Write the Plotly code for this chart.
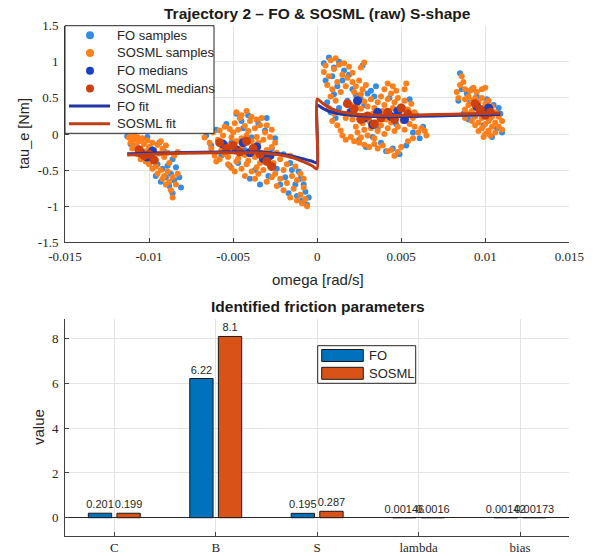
import plotly.graph_objects as go

# ---------------- Trajectory 2 data: (omega [rad/s], tau_e [Nm]) ----------------
# raw FO samples, grouped by velocity plateau
fo_samples_n10 = [
    (-0.0113, -0.03), (-0.0111, -0.14), (-0.0109, 0.00), (-0.0107, -0.18), (-0.0105, -0.08),
    (-0.0103, -0.26), (-0.0101, -0.04), (-0.0099, -0.20), (-0.0097, -0.34), (-0.0095, -0.42),
    (-0.0094, -0.12), (-0.0092, -0.48), (-0.0091, -0.24), (-0.0090, -0.60), (-0.0089, -0.44),
    (-0.0088, -0.72), (-0.0087, -0.55), (-0.0086, -0.82), (-0.0085, -0.64), (-0.0084, -0.46),
    (-0.0082, -0.60), (-0.0081, -0.74), (-0.0093, -0.66), (-0.0096, -0.58), (-0.0086, -0.35),
]
fo_samples_n4 = [
    (-0.0066, -0.02), (-0.0063, -0.16), (-0.0060, 0.06), (-0.0057, -0.30), (-0.0054, 0.14),
    (-0.0051, -0.12), (-0.0048, 0.28), (-0.0047, -0.40), (-0.0045, 0.18), (-0.0043, -0.22),
    (-0.0041, 0.26), (-0.0039, -0.05), (-0.0037, -0.50), (-0.0035, 0.15), (-0.0033, -0.30),
    (-0.0031, 0.05), (-0.0029, -0.58), (-0.0027, -0.20), (-0.0025, -0.06), (-0.0024, -0.48),
    (-0.0022, -0.70), (-0.0020, -0.28), (-0.0019, -0.60), (-0.0017, -0.82), (-0.0015, -0.50),
    (-0.0013, -0.70), (-0.0012, -0.86), (-0.0010, -0.62), (-0.0009, -0.92), (-0.0007, -0.80),
    (-0.0006, -0.98), (-0.0005, -0.88), (-0.0052, -0.44), (-0.0040, -0.62), (-0.0034, -0.70),
    (-0.0044, 0.08), (-0.0030, 0.22), (-0.0016, -0.40), (-0.0011, -0.52), (-0.0008, -0.70),
]
fo_samples_p3 = [
    (0.0004, 0.98), (0.0007, 1.06), (0.0010, 0.92), (0.0013, 1.00), (0.0016, 0.88),
    (0.0005, 0.74), (0.0009, 0.80), (0.0012, 0.66), (0.0015, 0.74), (0.0019, 0.82),
    (0.0027, 0.95), (0.0006, 0.44), (0.0010, 0.55), (0.0013, 0.36), (0.0011, 0.22),
    (0.0018, 0.46), (0.0021, 0.62), (0.0023, 0.54), (0.0026, 0.48), (0.0028, 0.40),
    (0.0030, 0.56), (0.0032, 0.60), (0.0034, 0.52), (0.0031, 0.20), (0.0033, -0.04),
    (0.0036, 0.08), (0.0038, -0.12), (0.0040, 0.28), (0.0043, 0.50), (0.0045, -0.20),
    (0.0047, 0.14), (0.0049, -0.28), (0.0051, 0.36), (0.0053, -0.16), (0.0055, 0.48),
    (0.0057, 0.02), (0.0059, 0.26), (0.0061, -0.06), (0.0063, 0.10), (0.0025, -0.08),
    (0.0029, -0.18), (0.0041, -0.24), (0.0008, 0.30), (0.0035, 0.66),
]
fo_samples_p10 = [
    (0.0085, 0.84), (0.0086, 0.62), (0.0084, 0.46), (0.0087, 0.28), (0.0089, 0.56),
    (0.0090, 0.20), (0.0091, 0.44), (0.0093, 0.26), (0.0095, 0.52), (0.0097, 0.34),
    (0.0099, 0.12), (0.0101, 0.48), (0.0103, 0.22), (0.0105, 0.40), (0.0107, 0.08),
    (0.0109, 0.28), (0.0110, 0.02), (0.0104, -0.04), (0.0092, 0.62), (0.0108, 0.36),
]

# raw SOSML samples
sosml_samples_n10 = [
    (-0.0112, -0.05), (-0.0111, -0.12), (-0.0110, -0.02), (-0.0109, -0.08), (-0.0108, -0.16),
    (-0.0107, -0.04), (-0.0106, -0.10), (-0.0105, -0.20), (-0.0104, -0.06), (-0.0103, -0.14),
    (-0.0102, -0.24), (-0.0101, -0.09), (-0.0100, -0.18), (-0.0099, -0.30), (-0.0098, -0.12),
    (-0.0097, -0.22), (-0.0096, -0.36), (-0.0095, -0.15), (-0.0094, -0.27), (-0.0093, -0.10),
    (-0.0092, -0.20), (-0.0091, -0.32), (-0.0090, -0.16), (-0.0089, -0.26), (-0.0088, -0.40),
    (-0.0100, -0.42), (-0.0098, -0.48), (-0.0096, -0.45), (-0.0095, -0.55), (-0.0093, -0.50),
    (-0.0092, -0.62), (-0.0091, -0.58), (-0.0090, -0.70), (-0.0089, -0.52), (-0.0088, -0.66),
    (-0.0087, -0.78), (-0.0086, -0.60), (-0.0086, -0.88), (-0.0084, -0.70), (-0.0083, -0.55),
    (-0.0105, -0.35), (-0.0107, -0.28), (-0.0110, -0.20), (-0.0102, -0.38), (-0.0085, -0.30),
    (-0.0083, -0.25),
]
sosml_samples_n4 = [
    (-0.0067, -0.05), (-0.0064, -0.12), (-0.0062, 0.02), (-0.0063, -0.20), (-0.0061, -0.30),
    (-0.0060, -0.38), (-0.0058, 0.05), (-0.0059, -0.08), (-0.0057, -0.22), (-0.0058, -0.35),
    (-0.0055, 0.10), (-0.0056, -0.02), (-0.0054, -0.15), (-0.0055, -0.28), (-0.0053, -0.42),
    (-0.0052, 0.07), (-0.0051, -0.05), (-0.0052, -0.19), (-0.0053, -0.32), (-0.0051, -0.47),
    (-0.0049, 0.15), (-0.0050, 0.02), (-0.0048, -0.10), (-0.0049, -0.24), (-0.0048, -0.38),
    (-0.0049, -0.52), (-0.0046, 0.22), (-0.0047, 0.06), (-0.0045, -0.06), (-0.0046, -0.20),
    (-0.0047, -0.34), (-0.0045, -0.48), (-0.0043, 0.11), (-0.0042, -0.02), (-0.0044, -0.15),
    (-0.0043, -0.29), (-0.0042, -0.42), (-0.0043, -0.58), (-0.0040, 0.18), (-0.0041, 0.04),
    (-0.0039, -0.10), (-0.0040, -0.24), (-0.0041, -0.37), (-0.0039, -0.52), (-0.0037, 0.08),
    (-0.0036, -0.04), (-0.0038, -0.18), (-0.0037, -0.32), (-0.0036, -0.46), (-0.0037, -0.62),
    (-0.0034, 0.12), (-0.0035, -0.12), (-0.0033, -0.26), (-0.0034, -0.40), (-0.0035, -0.55),
    (-0.0031, 0.02), (-0.0032, -0.08), (-0.0030, -0.22), (-0.0031, -0.36), (-0.0032, -0.50),
    (-0.0030, -0.66), (-0.0028, -0.04), (-0.0027, -0.18), (-0.0029, -0.30), (-0.0028, -0.45),
    (-0.0027, -0.60), (-0.0025, -0.12), (-0.0024, -0.26), (-0.0026, -0.40), (-0.0025, -0.55),
    (-0.0024, -0.72), (-0.0048, 0.30), (-0.0045, 0.26), (-0.0042, 0.32), (-0.0039, 0.24),
    (-0.0036, 0.20), (-0.0033, 0.22), (-0.0030, 0.12), (-0.0027, 0.06), (-0.0022, -0.35),
    (-0.0022, -0.62), (-0.0020, -0.50), (-0.0020, -0.78), (-0.0018, -0.42), (-0.0018, -0.68),
    (-0.0016, -0.88), (-0.0015, -0.58), (-0.0014, -0.76), (-0.0012, -0.92), (-0.0012, -0.64),
    (-0.0010, -0.84), (-0.0009, -0.96), (-0.0008, -0.74), (-0.0007, -0.90), (-0.0006, -1.00),
    (-0.0016, -0.30), (-0.0013, -0.45), (-0.0010, -0.55), (-0.0008, -0.62),
]
sosml_samples_p3 = [
    (0.0005, 0.95), (0.0008, 1.02), (0.0011, 1.05), (0.0004, 0.86), (0.0007, 0.80),
    (0.0010, 0.90), (0.0013, 0.96), (0.0016, 0.98), (0.0019, 0.93), (0.0026, 0.92),
    (0.0028, 0.99), (0.0006, 0.68), (0.0009, 0.62), (0.0012, 0.72), (0.0015, 0.82),
    (0.0018, 0.78), (0.0021, 0.85), (0.0008, 0.52), (0.0011, 0.46), (0.0014, 0.58),
    (0.0017, 0.66), (0.0007, 0.36), (0.0010, 0.28), (0.0009, 0.18), (0.0012, 0.12),
    (0.0014, 0.05), (0.0017, 0.22), (0.0021, 0.72), (0.0023, 0.66), (0.0025, 0.74),
    (0.0027, 0.62), (0.0022, 0.58), (0.0026, 0.55), (0.0029, 0.68), (0.0024, 0.50),
    (0.0020, 0.40), (0.0021, 0.20), (0.0022, 0.30), (0.0023, 0.10), (0.0024, 0.42),
    (0.0025, 0.22), (0.0024, 0.02), (0.0026, 0.35), (0.0027, 0.15), (0.0026, -0.05),
    (0.0028, 0.45), (0.0029, 0.26), (0.0028, 0.06), (0.0030, 0.38), (0.0031, 0.18),
    (0.0030, -0.02), (0.0032, 0.48), (0.0033, 0.28), (0.0032, 0.08), (0.0034, 0.36),
    (0.0035, 0.16), (0.0034, -0.06), (0.0036, 0.44), (0.0037, 0.24), (0.0036, 0.04),
    (0.0038, 0.52), (0.0039, 0.32), (0.0038, 0.12), (0.0040, 0.40), (0.0041, 0.20),
    (0.0040, 0.00), (0.0042, 0.48), (0.0043, 0.28), (0.0042, 0.08), (0.0044, 0.56),
    (0.0045, 0.36), (0.0044, 0.16), (0.0046, 0.44), (0.0047, 0.24), (0.0046, 0.04),
    (0.0048, 0.50), (0.0049, 0.30), (0.0048, 0.10), (0.0050, 0.38), (0.0051, 0.18),
    (0.0052, 0.46), (0.0053, 0.26), (0.0052, 0.06), (0.0054, 0.34), (0.0055, 0.14),
    (0.0056, 0.42), (0.0057, 0.22), (0.0058, 0.30), (0.0058, 0.10), (0.0040, 0.62),
    (0.0042, 0.70), (0.0045, 0.66), (0.0047, 0.60), (0.0052, 0.62), (0.0053, 0.70),
    (0.0022, -0.10), (0.0025, -0.12), (0.0028, -0.15), (0.0031, -0.18), (0.0034, -0.14),
    (0.0036, -0.20), (0.0039, -0.16), (0.0042, -0.24), (0.0044, -0.22), (0.0046, -0.30),
    (0.0048, -0.25), (0.0050, -0.18), (0.0054, -0.10), (0.0057, -0.06), (0.0060, 0.02),
    (0.0062, 0.08), (0.0064, 0.04), (0.0065, -0.02), (0.0020, -0.04), (0.0017, -0.08),
    (0.0015, -0.02),
]
sosml_samples_p10 = [
    (0.0086, 0.80), (0.0087, 0.72), (0.0085, 0.68), (0.0083, 0.58), (0.0084, 0.50),
    (0.0088, 0.62), (0.0091, 0.60), (0.0093, 0.64), (0.0095, 0.58), (0.0098, 0.62),
    (0.0100, 0.64), (0.0088, 0.48), (0.0088, 0.34), (0.0088, 0.22), (0.0090, 0.52),
    (0.0090, 0.40), (0.0090, 0.28), (0.0092, 0.46), (0.0092, 0.32), (0.0092, 0.18),
    (0.0094, 0.50), (0.0094, 0.38), (0.0094, 0.24), (0.0094, 0.12), (0.0096, 0.44),
    (0.0096, 0.30), (0.0096, 0.16), (0.0096, 0.04), (0.0098, 0.50), (0.0098, 0.36),
    (0.0098, 0.22), (0.0098, 0.08), (0.0100, 0.42), (0.0100, 0.28), (0.0100, 0.14),
    (0.0100, 0.00), (0.0102, 0.46), (0.0102, 0.32), (0.0102, 0.18), (0.0102, 0.05),
    (0.0104, 0.38), (0.0104, 0.24), (0.0104, 0.10), (0.0106, 0.30), (0.0106, 0.16),
    (0.0106, 0.02), (0.0108, 0.24), (0.0108, 0.10), (0.0110, 0.18), (0.0110, 0.06),
    (0.0099, -0.04), (0.0103, -0.02),
]

# binned medians
fo_medians = [
    (-0.0105, -0.26), (-0.0101, -0.32), (-0.0098, -0.24),
    (-0.0056, -0.14), (-0.0048, -0.22), (-0.0044, -0.12), (-0.0040, -0.26),
    (-0.0036, -0.18), (-0.0032, -0.34), (-0.0028, -0.30),
    (0.0020, 0.30), (0.0024, 0.46), (0.0028, 0.22), (0.0033, 0.13),
    (0.0036, 0.30), (0.0044, 0.24), (0.0048, 0.32), (0.0052, 0.20),
    (0.0095, 0.38), (0.0099, 0.30), (0.0102, 0.36),
]
sosml_medians = [
    (-0.0106, -0.22), (-0.0103, -0.30), (-0.0100, -0.28), (-0.0097, -0.36),
    (-0.0058, -0.12), (-0.0054, -0.20), (-0.0050, -0.16), (-0.0046, -0.25),
    (-0.0042, -0.10), (-0.0038, -0.20), (-0.0034, -0.28), (-0.0030, -0.38), (-0.0027, -0.45),
    (0.0018, 0.42), (0.0022, 0.35), (0.0026, 0.20), (0.0030, 0.25), (0.0034, 0.14),
    (0.0038, 0.22), (0.0042, 0.30), (0.0046, 0.20), (0.0050, 0.36), (0.0054, 0.28),
    (0.0094, 0.42), (0.0097, 0.34), (0.0100, 0.26), (0.0103, 0.30),
]

# fitted friction curves
fo_fit = [
    (-0.0113, -0.272), (-0.0090, -0.262), (-0.0070, -0.252), (-0.0050, -0.245),
    (-0.0035, -0.250), (-0.0025, -0.268), (-0.0016, -0.300), (-0.0008, -0.345),
    (-0.0003, -0.378), (-0.00001, -0.397),
    (0.00001, 0.397), (0.0003, 0.360), (0.0007, 0.315), (0.0012, 0.285),
    (0.0018, 0.265), (0.0028, 0.248), (0.0040, 0.240), (0.0060, 0.245),
    (0.0080, 0.255), (0.0109, 0.270),
]
sosml_fit = [
    (-0.0113, -0.290), (-0.0090, -0.275), (-0.0070, -0.262), (-0.0050, -0.258),
    (-0.0035, -0.262), (-0.0025, -0.280), (-0.0016, -0.318), (-0.0008, -0.385),
    (-0.0003, -0.440), (-0.00001, -0.485),
    (0.00001, 0.486), (0.0003, 0.430), (0.0007, 0.370), (0.0012, 0.320),
    (0.0018, 0.290), (0.0028, 0.265), (0.0040, 0.255), (0.0060, 0.262),
    (0.0080, 0.275), (0.0109, 0.290),
]

# identified friction parameters
param_names = ["C", "B", "S", "lambda", "bias"]
fo_params = [0.201, 6.22, 0.195, 0.00146, 0.00142]
sosml_params = [0.199, 8.1, 0.287, 0.0016, 0.00173]

omega_ticks = [-0.015, -0.01, -0.005, 0, 0.005, 0.01, 0.015]
tau_ticks = [-1.5, -1, -0.5, 0, 0.5, 1, 1.5]
value_ticks = [0, 2, 4, 6, 8]

# ---------------- styling ----------------
W, H = 597, 556
FO_SAMPLE = "#338CE6"
SOSML_SAMPLE = "#FF7F1A"
FO_MED = "#1A3FBF"
SOSML_MED = "#CC400D"
FO_LINE = "#2236A6"
SOSML_LINE = "#C23E14"
FO_BAR = "#0072BD"
SOSML_BAR = "#D95319"
AX = "#404040"
GRID = "#e3e3e3"
TXT = "#262626"
SANS = "Liberation Sans, Arial, sans-serif"
SERIF = "Liberation Serif, Times New Roman, serif"


def xs(pts):
    return [p[0] for p in pts]


def ys(pts):
    return [p[1] for p in pts]


def px(x):
    """pixel column -> paper x"""
    return x / W


def py(y):
    """pixel row (from top) -> paper y"""
    return 1 - y / H


fo_samples = fo_samples_n10 + fo_samples_n4 + fo_samples_p3 + fo_samples_p10
sosml_samples = sosml_samples_n10 + sosml_samples_n4 + sosml_samples_p3 + sosml_samples_p10

fig = go.Figure()

scatter_specs = [
    ("FO samples", fo_samples, dict(color=FO_SAMPLE, size=6)),
    ("SOSML samples", sosml_samples, dict(color=SOSML_SAMPLE, size=6)),
    ("FO medians", fo_medians, dict(color=FO_MED, size=9)),
    ("SOSML medians", sosml_medians, dict(color=SOSML_MED, size=9)),
]
for name, pts, mk in scatter_specs:
    fig.add_trace(go.Scatter(x=xs(pts), y=ys(pts), mode="markers", name=name,
                             marker=mk, xaxis="x", yaxis="y"))

line_specs = [("FO fit", fo_fit, FO_LINE), ("SOSML fit", sosml_fit, SOSML_LINE)]
for name, pts, col in line_specs:
    fig.add_trace(go.Scatter(x=xs(pts), y=ys(pts), mode="lines", name=name,
                             line=dict(color=col, width=3, shape="spline", smoothing=0.6),
                             xaxis="x", yaxis="y"))

positions = list(range(1, len(param_names) + 1))
bar_specs = [("FO", fo_params, FO_BAR, -0.256), ("SOSML", sosml_params, SOSML_BAR, 0.026)]
for name, vals, col, off in bar_specs:
    fig.add_trace(go.Bar(x=positions, y=vals, name=name, width=0.23, offset=off,
                         marker=dict(color=col, line=dict(color="#1a1a1a", width=1)),
                         text=[f"{v:.3g}" for v in vals], textposition="outside",
                         textangle=0, constraintext="none", cliponaxis=False,
                         textfont=dict(family=SANS, size=11, color=TXT),
                         xaxis="x2", yaxis="y2"))

axis_common = dict(showgrid=True, gridcolor=GRID, gridwidth=1, showline=True,
                   linecolor=AX, linewidth=1, ticks="inside", ticklen=4,
                   tickcolor=AX, tickfont=dict(family=SERIF, size=13, color=TXT),
                   zeroline=False, mirror=False, automargin=False)

fig.update_layout(
    template="none",
    width=W, height=H,
    margin=dict(l=0, r=0, t=0, b=0, autoexpand=False),
    paper_bgcolor="white", plot_bgcolor="white",
    barmode="overlay",
    showlegend=False,
    xaxis=dict(domain=[px(65), px(569.3)], range=[-0.0150001, 0.0150001],
               tickvals=omega_ticks, ticktext=[f"{v:g}" for v in omega_ticks],
               anchor="y", ticklabelstandoff=2, **axis_common),
    yaxis=dict(domain=[py(242.3), py(25.7)], range=[-1.500001, 1.500001],
               tickvals=tau_ticks, ticktext=[f"{v:g}" for v in tau_ticks],
               anchor="x", ticklabelstandoff=3, **axis_common),
    xaxis2=dict(domain=[px(65), px(569.3)], range=[0.514, 5.486],
                tickvals=positions, ticktext=param_names,
                anchor="y2", ticklabelstandoff=0, **axis_common),
    yaxis2=dict(domain=[py(535.7), py(319.3)], range=[-0.804, 8.867],
                tickvals=value_ticks, ticktext=[f"{v:g}" for v in value_ticks],
                anchor="x2", ticklabelstandoff=3, **axis_common),
)
fig.update_layout(yaxis2=dict(zeroline=True, zerolinecolor=TXT, zerolinewidth=1))

shapes = []
annotations = [
    dict(text="<b>Trajectory 2 – FO & SOSML (raw) S-shape</b>", x=px(317.5), y=py(14),
         xanchor="center", font=dict(family=SANS, size=15.5, color="#1a1a1a")),
    dict(text="omega [rad/s]", x=px(317.5), y=py(279), xanchor="center",
         font=dict(family=SANS, size=15, color=TXT)),
    dict(text="tau_e [Nm]", x=px(24), y=py(134), xanchor="center", textangle=-90,
         font=dict(family=SANS, size=14.5, color=TXT)),
    dict(text="<b>Identified friction parameters</b>", x=px(317.5), y=py(306),
         xanchor="center", font=dict(family=SANS, size=15.5, color="#1a1a1a")),
    dict(text="value", x=px(38), y=py(427), xanchor="center", textangle=-90,
         font=dict(family=SANS, size=15, color=TXT)),
]

# legend of the trajectory panel (boxed, top-left inside the axes)
shapes.append(dict(type="rect", xref="paper", yref="paper", x0=px(65), x1=px(214),
                   y0=py(133.3), y1=py(25.7), line=dict(color=TXT, width=1),
                   fillcolor="white", layer="above"))
row_y = 35.3
for name, _, mk in scatter_specs:
    shapes.append(dict(type="circle", xref="paper", yref="paper",
                       xsizemode="pixel", ysizemode="pixel",
                       xanchor=px(90), yanchor=py(row_y), x0=-4, x1=4, y0=-4, y1=4,
                       fillcolor=mk["color"], line=dict(width=0), layer="above"))
    annotations.append(dict(text=name, x=px(115), y=py(row_y), xanchor="left",
                            font=dict(family=SANS, size=13, color=TXT)))
    row_y += 17.7
for name, _, col in line_specs:
    shapes.append(dict(type="line", xref="paper", yref="paper", x0=px(69), x1=px(110),
                       y0=py(row_y), y1=py(row_y), line=dict(color=col, width=3),
                       layer="above"))
    annotations.append(dict(text=name, x=px(115), y=py(row_y), xanchor="left",
                            font=dict(family=SANS, size=13, color=TXT)))
    row_y += 17.7

# legend of the parameter panel
shapes.append(dict(type="rect", xref="paper", yref="paper", x0=px(317.7), x1=px(415.7),
                   y0=py(383.3), y1=py(345.7), line=dict(color=TXT, width=1),
                   fillcolor="white", layer="above"))
row_y = 355.5
for name, _, col, _ in bar_specs:
    shapes.append(dict(type="rect", xref="paper", yref="paper", x0=px(321.7), x1=px(363.3),
                       y0=py(row_y + 6), y1=py(row_y - 6), fillcolor=col,
                       line=dict(color="#1a1a1a", width=1), layer="above"))
    annotations.append(dict(text=name, x=px(366.5), y=py(row_y), xanchor="left",
                            font=dict(family=SANS, size=13, color=TXT)))
    row_y += 17.8

for a in annotations:
    a.update(xref="paper", yref="paper", showarrow=False, yanchor="middle")
fig.update_layout(annotations=annotations, shapes=shapes)

fig.write_html("out.html")
